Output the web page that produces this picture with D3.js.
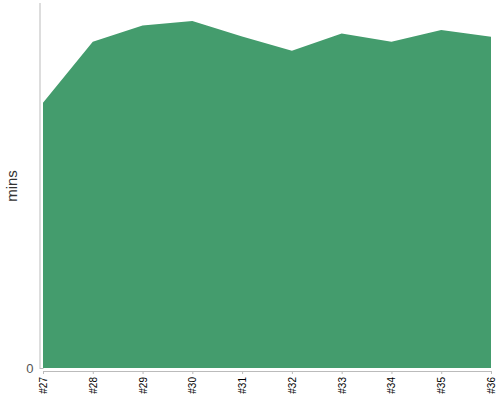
<!DOCTYPE html>
<html>
<head>
<meta charset="utf-8">
<script src="https://cdn.jsdelivr.net/npm/d3@7"></script>
<style>
  body { margin: 0; background: #fff; }
  svg { display: block; font-family: "Liberation Sans", Arial, sans-serif; }
</style>
</head>
<body>
<div id="chart"></div>
<script>
const categories = ["#27", "#28", "#29", "#30", "#31", "#32", "#33", "#34", "#35", "#36"];
const values = [102.0, 125.5, 131.7, 133.5, 127.5, 122.0, 128.7, 125.5, 130.0, 127.4];
const yTicks = [0];
const yLabel = "mins";

const W = 500, H = 400;
const margin = { top: 4, right: 9, bottom: 32, left: 43 };

const svg = d3.select("#chart").append("svg").attr("width", W).attr("height", H);

const x = d3.scalePoint().domain(categories).range([margin.left, W - margin.right]);
const y = d3.scaleLinear().domain([0, 140]).range([H - margin.bottom, margin.top]);

const data = categories.map((c, i) => ({ c, v: values[i] }));

const area = d3.area()
  .x(d => x(d.c))
  .y0(y(0))
  .y1(d => y(d.v));

svg.append("path").datum(data)
  .attr("d", area)
  .attr("fill", "#449c6d");

// y axis
const yAxisG = svg.append("g")
  .attr("transform", `translate(${margin.left - 3.5},0)`)
  .call(d3.axisLeft(y).tickValues(yTicks).tickSizeInner(-4).tickSizeOuter(0).tickPadding(6));
yAxisG.select(".domain").attr("stroke", "#bbb").attr("d", `M0.5,${margin.top - 1}V${y(0)}`);
yAxisG.selectAll(".tick line").attr("stroke", "#bbb");
yAxisG.selectAll(".tick text").attr("fill", "#555").attr("font-size", 13);

// x axis
const xAxisG = svg.append("g")
  .attr("transform", `translate(0,${y(0) + 3})`)
  .call(d3.axisBottom(x).tickSizeInner(3).tickSizeOuter(0).tickPadding(4));
xAxisG.select(".domain").attr("stroke", "#bbb");
xAxisG.selectAll(".tick line").attr("stroke", "#bbb");
xAxisG.selectAll(".tick text")
  .attr("fill", "#000")
  .attr("font-size", 10)
  .attr("transform", "rotate(-90)")
  .attr("text-anchor", "end")
  .attr("x", -6)
  .attr("y", 0)
  .attr("dy", "0.35em");

// y label
svg.append("text")
  .attr("transform", `translate(17,${(margin.top + y(0)) / 2}) rotate(-90)`)
  .attr("text-anchor", "middle")
  .attr("fill", "#333")
  .attr("font-size", 15)
  .text(yLabel);
</script>
</body>
</html>
